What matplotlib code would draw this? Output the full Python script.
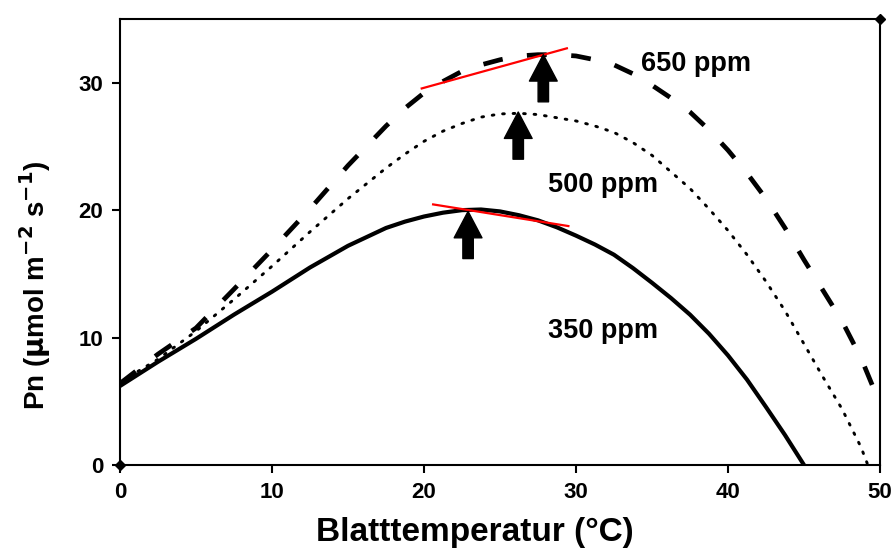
import matplotlib.pyplot as plt

plt.rcParams["font.family"] = ["Liberation Sans", "DejaVu Sans"]
plt.rcParams["font.weight"] = "bold"

# leaf temperature (°C) and net photosynthesis (µmol m-2 s-1)
temp_350 = [0, 2.5, 5, 7.5, 10, 12.5, 15, 17.5, 18.75, 20, 21.25, 22.5, 23.75, 25, 26.25, 27.5,
            28.75, 30, 31.25, 32.5, 33.75, 35, 36.25, 37.5, 38.75, 40, 41.25, 42.5, 43.75, 45]
pn_350 = [6.2, 8.1, 9.9, 11.8, 13.6, 15.5, 17.2, 18.6, 19.1, 19.5, 19.8, 20.0, 20.05, 19.9, 19.6, 19.2,
          18.65, 18.0, 17.3, 16.5, 15.45, 14.3, 13.1, 11.8, 10.3, 8.6, 6.7, 4.55, 2.35, 0.0]

temp_500 = [0, 2.5, 5, 7.5, 10, 12.5, 15, 17.5, 18.75, 20, 21.25, 22.5, 23.75, 25, 26.25, 27.5, 28.75,
            30, 31.25, 32.5, 33.75, 35, 36.25, 37.5, 38.75, 40, 41.25, 42.5, 43.75, 45, 46.25, 47.5, 48.75, 49.2]
pn_500 = [6.5, 8.3, 10.5, 13.0, 15.6, 18.3, 20.9, 23.3, 24.4, 25.4, 26.2, 26.8, 27.3, 27.55, 27.6, 27.5, 27.25,
          27.0, 26.6, 26.1, 25.3, 24.3, 23.0, 21.7, 20.1, 18.4, 16.5, 14.4, 12.1, 9.5, 6.9, 4.4, 1.4, 0.0]

temp_650 = [0, 2.5, 5, 7.5, 10, 12.5, 15, 17.5, 18.75, 20, 21.25, 22.5, 23.75, 25, 26.25, 27.5, 28.75,
            30, 31.25, 32.5, 33.75, 35, 36.25, 37.5, 38.75, 40, 41.25, 42.5, 43.75, 45, 46.25, 47.5, 48.75, 50]
pn_650 = [6.4, 8.7, 10.75, 13.8, 16.9, 20.1, 23.5, 26.6, 28.0, 29.2, 30.1, 30.9, 31.4, 31.8, 32.1, 32.2, 32.2,
          32.1, 31.8, 31.4, 30.7, 29.8, 28.8, 27.7, 26.3, 24.7, 22.9, 20.9, 18.6, 16.1, 13.7, 11.3, 8.4, 4.8]

# red tangent lines at the optimum
tan_650_x = [19.85, 29.4]
tan_650_y = [29.55, 32.7]
tan_350_x = [20.6, 29.5]
tan_350_y = [20.45, 18.75]

# arrows marking the temperature optimum: x, base y, tip y
arrow_x = [27.85, 26.2, 22.9]
arrow_base = [28.5, 24.0, 16.2]
arrow_tip = [32.2, 27.7, 19.9]

labels = ["650 ppm", "500 ppm", "350 ppm"]
label_x = [37.9, 31.8, 31.8]
label_y = [31.5, 22.0, 10.5]

fig = plt.figure(figsize=(8.93, 5.53), dpi=100)
ax = fig.add_axes([120 / 893, 1 - 465 / 553, 760 / 893, 446 / 553])

ax.plot(temp_350, pn_350, color="black", lw=3.0, solid_capstyle="butt", solid_joinstyle="round")
ax.plot(temp_500, pn_500, color="black", lw=2.1, linestyle=(0, (0.6, 3.0)), dash_capstyle="round")
ax.plot(temp_650, pn_650, color="black", lw=3.4, linestyle=(0, (4.2, 5.2)))

ax.plot(tan_650_x, tan_650_y, color="red", lw=1.6)
ax.plot(tan_350_x, tan_350_y, color="red", lw=1.6)

for x, y0, y1 in zip(arrow_x, arrow_base, arrow_tip):
    ax.annotate("", xy=(x, y1), xytext=(x, y0),
                arrowprops=dict(facecolor="black", edgecolor="black", width=7.5,
                                headwidth=20, headlength=19, shrink=0))

for t, x, y in zip(labels, label_x, label_y):
    ax.text(x, y, t, ha="center", va="center", fontsize=19.5, fontweight="bold")

ax.plot([0, 50], [0, 35], linestyle="none", marker="D", ms=5, color="black", clip_on=False)

ax.set_xlim(0, 50)
ax.set_ylim(0, 35)
ax.set_xticks([0, 10, 20, 30, 40, 50])
ax.set_yticks([0, 10, 20, 30])
ax.tick_params(axis="both", direction="out", length=6, width=1.5, labelsize=16, pad=6)
for lab in ax.get_xticklabels() + ax.get_yticklabels():
    lab.set_fontweight("bold")
for s in ax.spines.values():
    s.set_linewidth(1.5)

fig.text(475 / 893, 1 - 532 / 553, "Blatttemperatur (°C)", ha="center", va="center",
         fontsize=24, fontweight="bold")
fig.text(35 / 893, 1 - 285 / 553, r"Pn ($\mathbf{\mu}$mol m$^{-2}$ s$^{-1}$)", ha="center", va="center",
         rotation=90, fontsize=20, fontweight="bold")

fig.savefig("out.png", dpi=100)
